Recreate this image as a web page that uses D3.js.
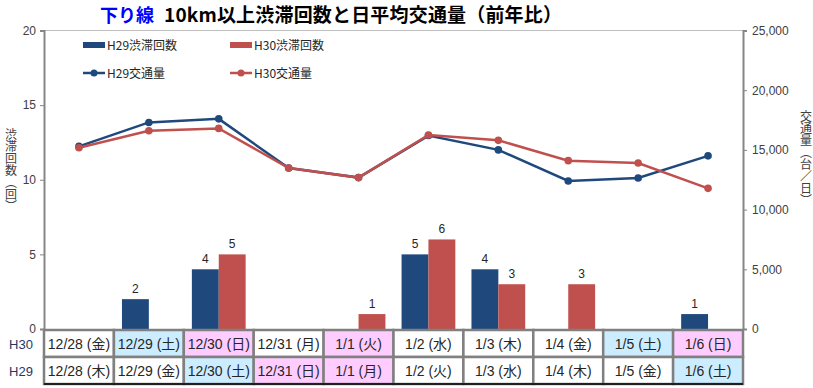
<!DOCTYPE html>
<html>
<head>
<meta charset="utf-8">
<script src="https://cdn.jsdelivr.net/npm/d3@7"></script>
<style>
  body { margin: 0; background: #fff; }
  svg { font-family: "Liberation Sans", "Noto Sans CJK JP", sans-serif; }
</style>
</head>
<body>
<svg id="chart" width="813" height="388"></svg>
<script>
// data
var days = ["12/28", "12/29", "12/30", "12/31", "1/1", "1/2", "1/3", "1/4", "1/5", "1/6"];
var wdH30 = ["金", "土", "日", "月", "火", "水", "木", "金", "土", "日"];
var wdH29 = ["木", "金", "土", "日", "月", "火", "水", "木", "金", "土"];
var colH30 = ["w", "b", "p", "w", "p", "w", "w", "w", "b", "p"];
var colH29 = ["w", "w", "b", "p", "p", "w", "w", "w", "w", "b"];
var jamH29 = [0, 2, 4, 0, 0, 5, 4, 0, 0, 1];
var jamH30 = [0, 0, 5, 0, 1, 6, 3, 3, 0, 0];
var trafH29 = [15300, 17300, 17600, 13480, 12680, 16200, 15000, 12400, 12650, 14500];
var trafH30 = [15180, 16600, 16800, 13480, 12680, 16250, 15800, 14100, 13900, 11780];
var leftTicks = [0, 5, 10, 15, 20];
var rightTicks = [0, 5000, 10000, 15000, 20000, 25000];

var blue = "#1F497D", red = "#C0504D";
var fill = { w: "#ffffff", b: "#CCECFF", p: "#FFCCFF" };
var jp = "'Noto Sans CJK JP', sans-serif";

var svg = d3.select("#chart");
var margin = { left: 44, right: 70, top: 30.5 };
var width = 813 - margin.left - margin.right,
    plotBottom = 329;

var x = d3.scaleBand().domain(days).range([margin.left, margin.left + width]).padding(0);
var sub = d3.scaleBand().domain(["H29", "H30"]).range([0, x.bandwidth()]).paddingInner(0).paddingOuter(0.3);
var yL = d3.scaleLinear().domain([0, 20]).range([plotBottom, margin.top]);
var yR = d3.scaleLinear().domain([0, 25000]).range([plotBottom, margin.top]);

// title
svg.append("text").attr("x", 100).attr("y", 22)
  .attr("font-size", 18).attr("font-weight", "bold").attr("font-family", jp)
  .attr("fill", "#0000FF").text("下り線");
svg.append("text").attr("x", 164).attr("y", 22)
  .attr("font-size", 19).attr("font-weight", "bold").attr("font-family", jp)
  .attr("textLength", 398).attr("lengthAdjust", "spacing")
  .attr("fill", "#000").text("10km以上渋滞回数と日平均交通量（前年比）");

// frame top line
svg.append("line").attr("x1", margin.left).attr("x2", margin.left + width)
  .attr("y1", margin.top).attr("y2", margin.top).attr("stroke", "#bfbfbf").attr("stroke-width", 1);

// axes
var axL = svg.append("g").attr("transform", "translate(" + margin.left + ",0)")
  .call(d3.axisLeft(yL).tickValues(leftTicks).tickSize(4).tickPadding(4));
var axR = svg.append("g").attr("transform", "translate(" + (margin.left + width) + ",0)")
  .call(d3.axisRight(yR).tickValues(rightTicks).tickSize(4).tickPadding(5).tickFormat(d3.format(",")));
[axL, axR].forEach(function(a) {
  a.select(".domain").attr("stroke", "#868686").attr("stroke-width", 2);
  a.selectAll(".tick line").attr("stroke", "#868686");
  a.selectAll(".tick text").attr("font-size", 12).attr("fill", "#404040");
});

// axis titles (vertical)
svg.append("text").attr("x", 11).attr("y", 128)
  .style("writing-mode", "vertical-rl").attr("font-size", 12).attr("fill", "#404040")
  .attr("font-family", jp).text("渋滞回数（回）");
svg.append("text").attr("x", 806).attr("y", 110)
  .style("writing-mode", "vertical-rl").attr("font-size", 12).attr("fill", "#404040")
  .attr("font-family", jp).text("交通量（台／日）");

// bars
var series = [{ key: "H29", vals: jamH29, color: blue }, { key: "H30", vals: jamH30, color: red }];
series.forEach(function(s) {
  var g = svg.append("g");
  g.selectAll("rect").data(s.vals).join("rect")
    .attr("x", function(d, i) { return x(days[i]) + sub(s.key); })
    .attr("width", sub.bandwidth())
    .attr("y", function(d) { return yL(d); })
    .attr("height", function(d) { return plotBottom - yL(d); })
    .attr("fill", s.color);
  s.vals.forEach(function(d, i) {
    if (d > 0) {
      g.append("text")
        .attr("x", x(days[i]) + sub(s.key) + sub.bandwidth() / 2)
        .attr("y", yL(d) - 6)
        .attr("text-anchor", "middle").attr("font-size", 12).attr("fill", "#262626")
        .text(d);
    }
  });
});

// lines
var lines = [{ vals: trafH29, color: blue }, { vals: trafH30, color: red }];
var lineGen = d3.line()
  .x(function(d, i) { return x(days[i]) + x.bandwidth() / 2; })
  .y(function(d) { return yR(d); });
lines.forEach(function(l) {
  svg.append("path").datum(l.vals).attr("d", lineGen)
    .attr("fill", "none").attr("stroke", l.color).attr("stroke-width", 2.5);
  svg.append("g").selectAll("circle").data(l.vals).join("circle")
    .attr("cx", function(d, i) { return x(days[i]) + x.bandwidth() / 2; })
    .attr("cy", function(d) { return yR(d); })
    .attr("r", 3.8).attr("fill", l.color);
});

// legend
var leg = svg.append("g").attr("font-size", 12).attr("font-family", jp);
var legItems = [
  { x: 83, y: 45, type: "bar", color: blue, label: "H29渋滞回数" },
  { x: 230, y: 45, type: "bar", color: red, label: "H30渋滞回数" },
  { x: 83, y: 73, type: "line", color: blue, label: "H29交通量" },
  { x: 230, y: 73, type: "line", color: red, label: "H30交通量" }
];
legItems.forEach(function(it) {
  if (it.type === "bar") {
    leg.append("rect").attr("x", it.x).attr("y", it.y - 3).attr("width", 22).attr("height", 6).attr("fill", it.color);
  } else {
    leg.append("line").attr("x1", it.x).attr("x2", it.x + 22).attr("y1", it.y).attr("y2", it.y)
      .attr("stroke", it.color).attr("stroke-width", 2.5);
    leg.append("circle").attr("cx", it.x + 11).attr("cy", it.y).attr("r", 3.5).attr("fill", it.color);
  }
  leg.append("text").attr("x", it.x + 24).attr("y", it.y + 4.5).attr("fill", "#262626").text(it.label);
});

// table below the chart
var rows = [
  { label: "H30", wd: wdH30, col: colH30, y: 330 },
  { label: "H29", wd: wdH29, col: colH29, y: 357 }
];
var rowH = 27;
var tbl = svg.append("g");
rows.forEach(function(r) {
  tbl.append("text").attr("x", 21).attr("y", r.y + rowH / 2 + 5)
    .attr("text-anchor", "middle").attr("font-size", 13).attr("fill", "#1F3864").text(r.label);
  days.forEach(function(d, i) {
    tbl.append("rect").attr("x", x(d)).attr("y", r.y).attr("width", x.bandwidth()).attr("height", rowH)
      .attr("fill", fill[r.col[i]]).attr("stroke", "#808080").attr("stroke-width", 2.5);
    tbl.append("text").attr("x", x(d) + x.bandwidth() / 2).attr("y", r.y + rowH / 2 + 5)
      .attr("text-anchor", "middle").attr("font-size", 14).attr("fill", "#262626")
      .text(d + " (" + r.wd[i] + ")");
  });
});
tbl.append("line").attr("x1", margin.left).attr("x2", margin.left + width)
  .attr("y1", 384).attr("y2", 384).attr("stroke", "#000").attr("stroke-width", 1.5);
</script>
</body>
</html>
